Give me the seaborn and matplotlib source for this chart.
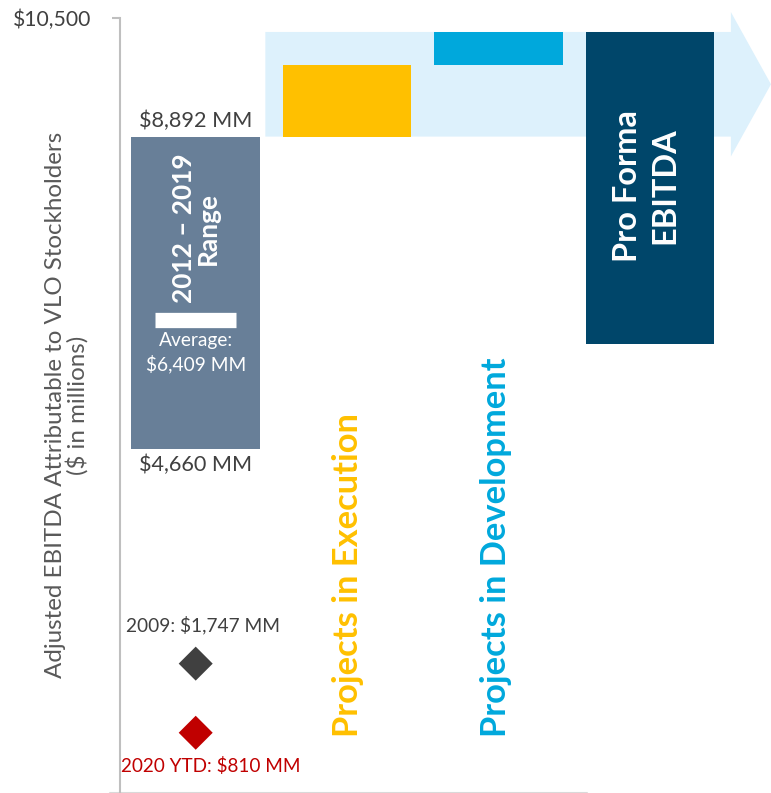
import numpy as np
import pandas as pd
import matplotlib.pyplot as plt
import seaborn as sns
from matplotlib.patches import FancyArrow

# floating bars: bottom and top of each bar ($MM)
categories = ["2012 – 2019\nRange", "Projects in Execution", "Projects in Development", "Pro Forma\nEBITDA"]
bar_low = [4660, 8892, 9863, 6081]
bar_high = [8892, 9863, 10311, 10311]
range_avg = 6409

# single years shown as diamonds
point_labels = ["2009: $1,747 MM", "2020 YTD: $810 MM"]
point_values = [1747, 810]

y_max = 10500

bar_colors = ["#687F98", "#FFC000", "#00A8DC", "#00466A"]
point_colors = ["#404040", "#C00000"]
dark = "#404040"

sns.set_theme(style="white")
plt.rcParams["font.family"] = ["Lato", "DejaVu Sans"]

fig = plt.figure(figsize=(7.71, 7.93), dpi=100)
ax = fig.add_axes([120 / 771, 0.5 / 793, 651 / 771, 774.5 / 793])

# background arrow behind the project bars
arrow_mid = (bar_low[1] + bar_high[-1]) / 2
body = bar_high[-1] - bar_low[1]
ax.add_patch(FancyArrow(0.46, arrow_mid, 3.8 - 0.46, 0, width=body, head_width=body + 540,
                        head_length=0.265, length_includes_head=True, color="#DDF1FC",
                        lw=0, zorder=0, clip_on=False))

# bars
for cat, lo, hi, col in zip(categories, bar_low, bar_high, bar_colors):
    sns.barplot(x=[cat], y=[hi - lo], bottom=lo, order=categories, color=col, saturation=1,
                width=0.85, errorbar=None, linewidth=0, ax=ax, zorder=2)

# average marker inside range bar
avg_half = 0.267
ax.hlines(range_avg, 0 - avg_half, 0 + avg_half, colors="white", lw=11, zorder=3)

# diamonds
pts = pd.DataFrame({"x": [0] * len(point_values), "y": point_values, "label": point_labels})
sns.scatterplot(data=pts, x="x", y="y", hue="label", palette=point_colors, marker="D",
                s=300, linewidth=0, legend=False, ax=ax, zorder=4)

# labels
ax.annotate(f"${bar_high[0]:,} MM", (0, bar_high[0]), xytext=(0, 4), textcoords="offset points",
            ha="center", va="bottom", fontsize=15.6, color=dark)
ax.annotate(f"${bar_low[0]:,} MM", (0, bar_low[0]), xytext=(0, -4), textcoords="offset points",
            ha="center", va="top", fontsize=15.6, color=dark)
ax.annotate(f"Average:\n${range_avg:,} MM", (0, range_avg), xytext=(0, -9), textcoords="offset points",
            ha="center", va="top", fontsize=13.8, color="white", linespacing=1.35, zorder=5)
ax.annotate(categories[0], (0, (bar_high[0] + range_avg) / 2), ha="center", va="center",
            rotation=90, fontsize=18.9, fontweight="bold", color="white", linespacing=1.0,
            multialignment="center", zorder=5)
ax.annotate(categories[3], (3, bar_high[3]), xytext=(-3, -56), textcoords="offset points",
            ha="center", va="top", rotation=90, fontsize=23.4, fontweight="bold", color="white",
            linespacing=1.35, multialignment="center", zorder=5)
for i, dx in ((1, 0.5), (2, -2)):
    ax.annotate(categories[i], (i, 0), xytext=(dx, 40), textcoords="offset points",
                ha="center", va="bottom", rotation=90, fontsize=24.8, fontweight="bold",
                color=bar_colors[i], zorder=5)

ax.annotate(point_labels[0], (0, point_values[0]), xytext=(5, 28), textcoords="offset points",
            ha="center", va="center", fontsize=13.8, color=point_colors[0])
ax.annotate(point_labels[1], (0, point_values[1]), xytext=(11, -24), textcoords="offset points",
            ha="center", va="center", fontsize=13.6, color=point_colors[1])

# axes styling
ax.set_xlim(-0.5, 3.8)
ax.set_ylim(0, y_max)
ax.set_xticks([])
ax.set_xlabel("")
ax.set_yticks([y_max])
ax.set_yticklabels([f"${y_max:,}"])
ax.tick_params(axis="y", left=True, length=6, width=1.5, color="#BFBFBF", pad=15,
               labelsize=15.2, labelcolor=dark)
for s in ("top", "right", "bottom"):
    ax.spines[s].set_visible(False)
ax.spines["left"].set_color("#BFBFBF")
ax.spines["left"].set_linewidth(1.5)
ax.axhline(0, xmin=-0.015, xmax=0.717, color="#D9D9D9", lw=1.5, clip_on=False)

ax.set_ylabel("Adjusted EBITDA Attributable to VLO Stockholders\n($ in millions)",
              fontsize=17.4, color="#595959", linespacing=0.95)
ax.yaxis.set_label_coords(-0.049, 0.5)

fig.savefig("out.png", dpi=100)
